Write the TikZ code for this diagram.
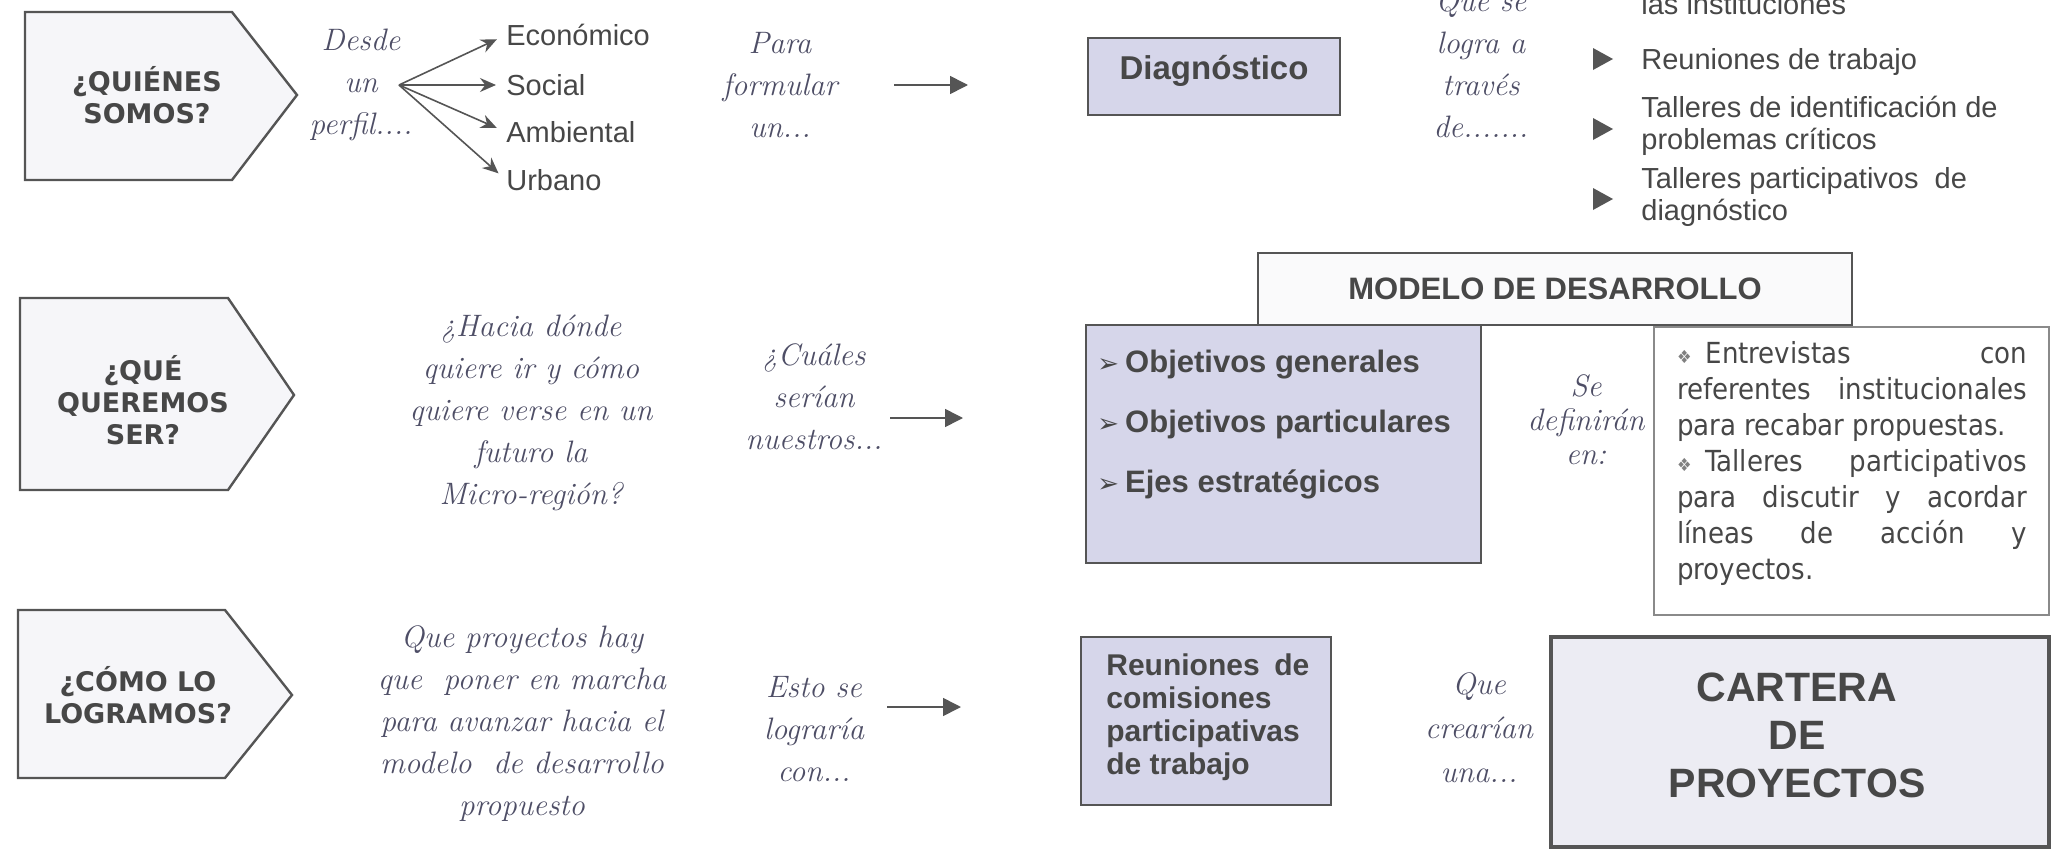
\documentclass[tikz,border=0pt]{standalone}
\usepackage{fontspec}
\usetikzlibrary{arrows.meta}
\newfontfamily\arialf{Liberation Sans}
\newfontfamily\tahf{DejaVu Sans}
\newfontfamily\tahcf{DejaVu Sans Condensed}
\definecolor{txt}{HTML}{474747}
\definecolor{itc}{HTML}{4E4E66}
\definecolor{edge}{HTML}{555555}
\definecolor{lav}{HTML}{D6D6EA}
\definecolor{pentfill}{HTML}{F6F6F9}
\definecolor{cartfill}{HTML}{ECECF3}
\definecolor{modfill}{HTML}{FAFAFB}
\definecolor{thinedge}{HTML}{8A8A8A}
\newcommand{\dmnd}{{\color{gray}\fontsize{9}{9}\selectfont ❖}\hspace{7pt}}
\newcommand{\arrbul}{{\tahf\fontsize{13}{13}\selectfont ➢}\hspace{3pt}}
\begin{document}
\begin{tikzpicture}[x=0.5pt,y=-0.5pt,
  pent/.style={draw=edge,line width=1.2pt,fill=pentfill,line join=miter},
  pq/.style={text=txt,font=\tahf\bfseries\fontsize{13.5}{16}\selectfont,align=center,inner sep=0pt},
  it/.style={text=itc,font=\itshape\fontsize{15.5}{21}\selectfont,align=center,inner sep=0pt},
  lab/.style={text=txt,font=\arialf\fontsize{14.5}{16}\selectfont,anchor=west,inner sep=0pt,align=left},
  fanarr/.style={draw=edge,line width=0.8pt,-{Stealth[length=8pt,width=7pt]}},
  bigarr/.style={draw=edge,line width=0.8pt,-{Triangle[length=9pt,width=9pt]}},
  boxb/.style={draw=edge,line width=1.3pt},
  bt/.style={text=txt,font=\arialf\bfseries\fontsize{15.5}{30}\selectfont,inner sep=0pt,align=left},
  bulfill/.style={fill=edge}]
\useasboundingbox (0,0) rectangle (2069,851);

% ---------- row 1 ----------
\draw[pent] (25,12) -- (232,12) -- (297,95) -- (232,180) -- (25,180) -- cycle;
\node[pq] (q1) at (147,95) {¿QUIÉNES\\SOMOS?};

\node[it] (desde) at (361,85) {Desde\\un\\perfil....};
\coordinate (fan) at (399,85);
\node[lab] (econ) at (506,35) {Económico};
\node[lab] (soc) at (506,85) {Social};
\node[lab] (amb) at (506,132) {Ambiental};
\node[lab] (urb) at (506,180) {Urbano};
\draw[fanarr, shorten >=5pt] (fan) -- (econ.west);
\draw[fanarr, shorten >=5pt] (fan) -- (soc.west);
\draw[fanarr, shorten >=5pt] (fan) -- (amb.west);
\draw[fanarr, shorten >=5pt] (fan) -- (urb.west);

\node[it] (para) at (780,85) {Para\\formular\\un...};
\coordinate (a1s) at (894,85);
\coordinate (a1e) at (968,85);
\draw[bigarr] (a1s) -- (a1e);

\node[boxb, fill=lav, minimum width=126pt, minimum height=38.5pt, text height=11pt, text depth=8pt,
  font=\arialf\bfseries\fontsize{16.5}{18}\selectfont, text=txt] (diag) at (1214,76.5) {Diagnóstico};

\node[it] (quese) at (1481,64) {Que se\\logra a\\través\\de.......};

\node[lab, anchor=base west] (inst) at (1641,15) {las instituciones};
\fill[bulfill] (1593,48) -- (1613,59) -- (1593,70) -- cycle;
\node[lab] (reun) at (1641,62) {Reuniones de trabajo};
\fill[bulfill] (1593,118) -- (1613,129) -- (1593,140) -- cycle;
\node[lab] (tal1) at (1641,126) {Talleres de identificación de\\problemas críticos};
\fill[bulfill] (1593,188) -- (1613,199) -- (1593,210) -- cycle;
\node[lab] (tal2) at (1641,197) {Talleres participativos\ \ de\\diagnóstico};

% ---------- row 2 ----------
\draw[pent] (20,298) -- (228,298) -- (294,395) -- (228,490) -- (20,490) -- cycle;
\node[pq] (q2) at (143,400) {¿QUÉ\\QUEREMOS\\SER?};

\node[it] (hacia) at (531,413) {¿Hacia dónde\\quiere ir y cómo\\quiere verse en un\\futuro la\\Micro-región?};
\node[it] (cuales) at (814,397) {¿Cuáles\\serían\\nuestros...};
\coordinate (a2s) at (890,418);
\coordinate (a2e) at (963,418);
\draw[bigarr] (a2s) -- (a2e);

\node[boxb, fill=lav, minimum width=197.5pt, minimum height=119pt] (obj) at (1283.5,444) {};
\node[bt, anchor=west] (objt) at (1097,425) {\arrbul Objetivos generales\\\arrbul Objetivos particulares\\\arrbul Ejes estratégicos};
\node[boxb, fill=modfill, minimum width=297pt, minimum height=36pt,
  font=\arialf\bfseries\fontsize{15.5}{18}\selectfont, text=txt] (modelo) at (1555,289) {MODELO DE DESARROLLO};

\node[it, font=\itshape\fontsize{15.5}{17}\selectfont] (sedef) at (1586,420) {Se\\definirán\\en:};

\node[draw=thinedge, line width=0.8pt, fill=white, minimum width=197.5pt, minimum height=144pt] (entbox) at (1851.5,471) {};
\node[text=txt, font=\tahcf\fontsize{14.5}{18}\selectfont, align=left, inner sep=0pt] (entxt) at (1852,463) {%
\makebox[175pt][s]{\dmnd Entrevistas\hfill con}\\
\makebox[175pt][s]{referentes institucionales}\\
para recabar propuestas.\\
\makebox[175pt][s]{\dmnd Talleres\hfill participativos}\\
\makebox[175pt][s]{para discutir y acordar}\\
\makebox[175pt][s]{líneas de acción y}\\
proyectos.};

% ---------- row 3 ----------
\draw[pent] (18,610) -- (225,610) -- (292,695) -- (225,778) -- (18,778) -- cycle;
\node[pq] (q3) at (138,695) {¿CÓMO LO\\LOGRAMOS?};

\node[it] (queproy) at (522,724) {Que proyectos hay\\que\ \ poner en marcha\\para avanzar hacia el\\modelo\ \ de desarrollo\\propuesto};
\node[it] (esto) at (814,729) {Esto se\\lograría\\con...};
\coordinate (a3s) at (887,707);
\coordinate (a3e) at (961,707);
\draw[bigarr] (a3s) -- (a3e);

\node[boxb, fill=lav, minimum width=125pt, minimum height=84pt] (reunbox) at (1206,721) {};
\node[bt, anchor=west, font=\arialf\bfseries\fontsize{15}{16.5}\selectfont] (reuntxt) at (1106,717)
  {\makebox[101.5pt][s]{Reuniones de}\\comisiones\\participativas\\de trabajo};

\node[it, font=\itshape\fontsize{15.5}{22}\selectfont] (quecre) at (1479,728) {Que\\crearían\\una...};

\node[boxb, line width=1.6pt, fill=cartfill, minimum width=249pt, minimum height=105pt] (cartera) at (1800,742) {};
\node[align=center, inner sep=0pt, font=\arialf\bfseries\fontsize{20.5}{24}\selectfont, text=txt]
  (cartxt) at (1797,735) {CARTERA\\DE\\PROYECTOS};
\end{tikzpicture}
\end{document}
